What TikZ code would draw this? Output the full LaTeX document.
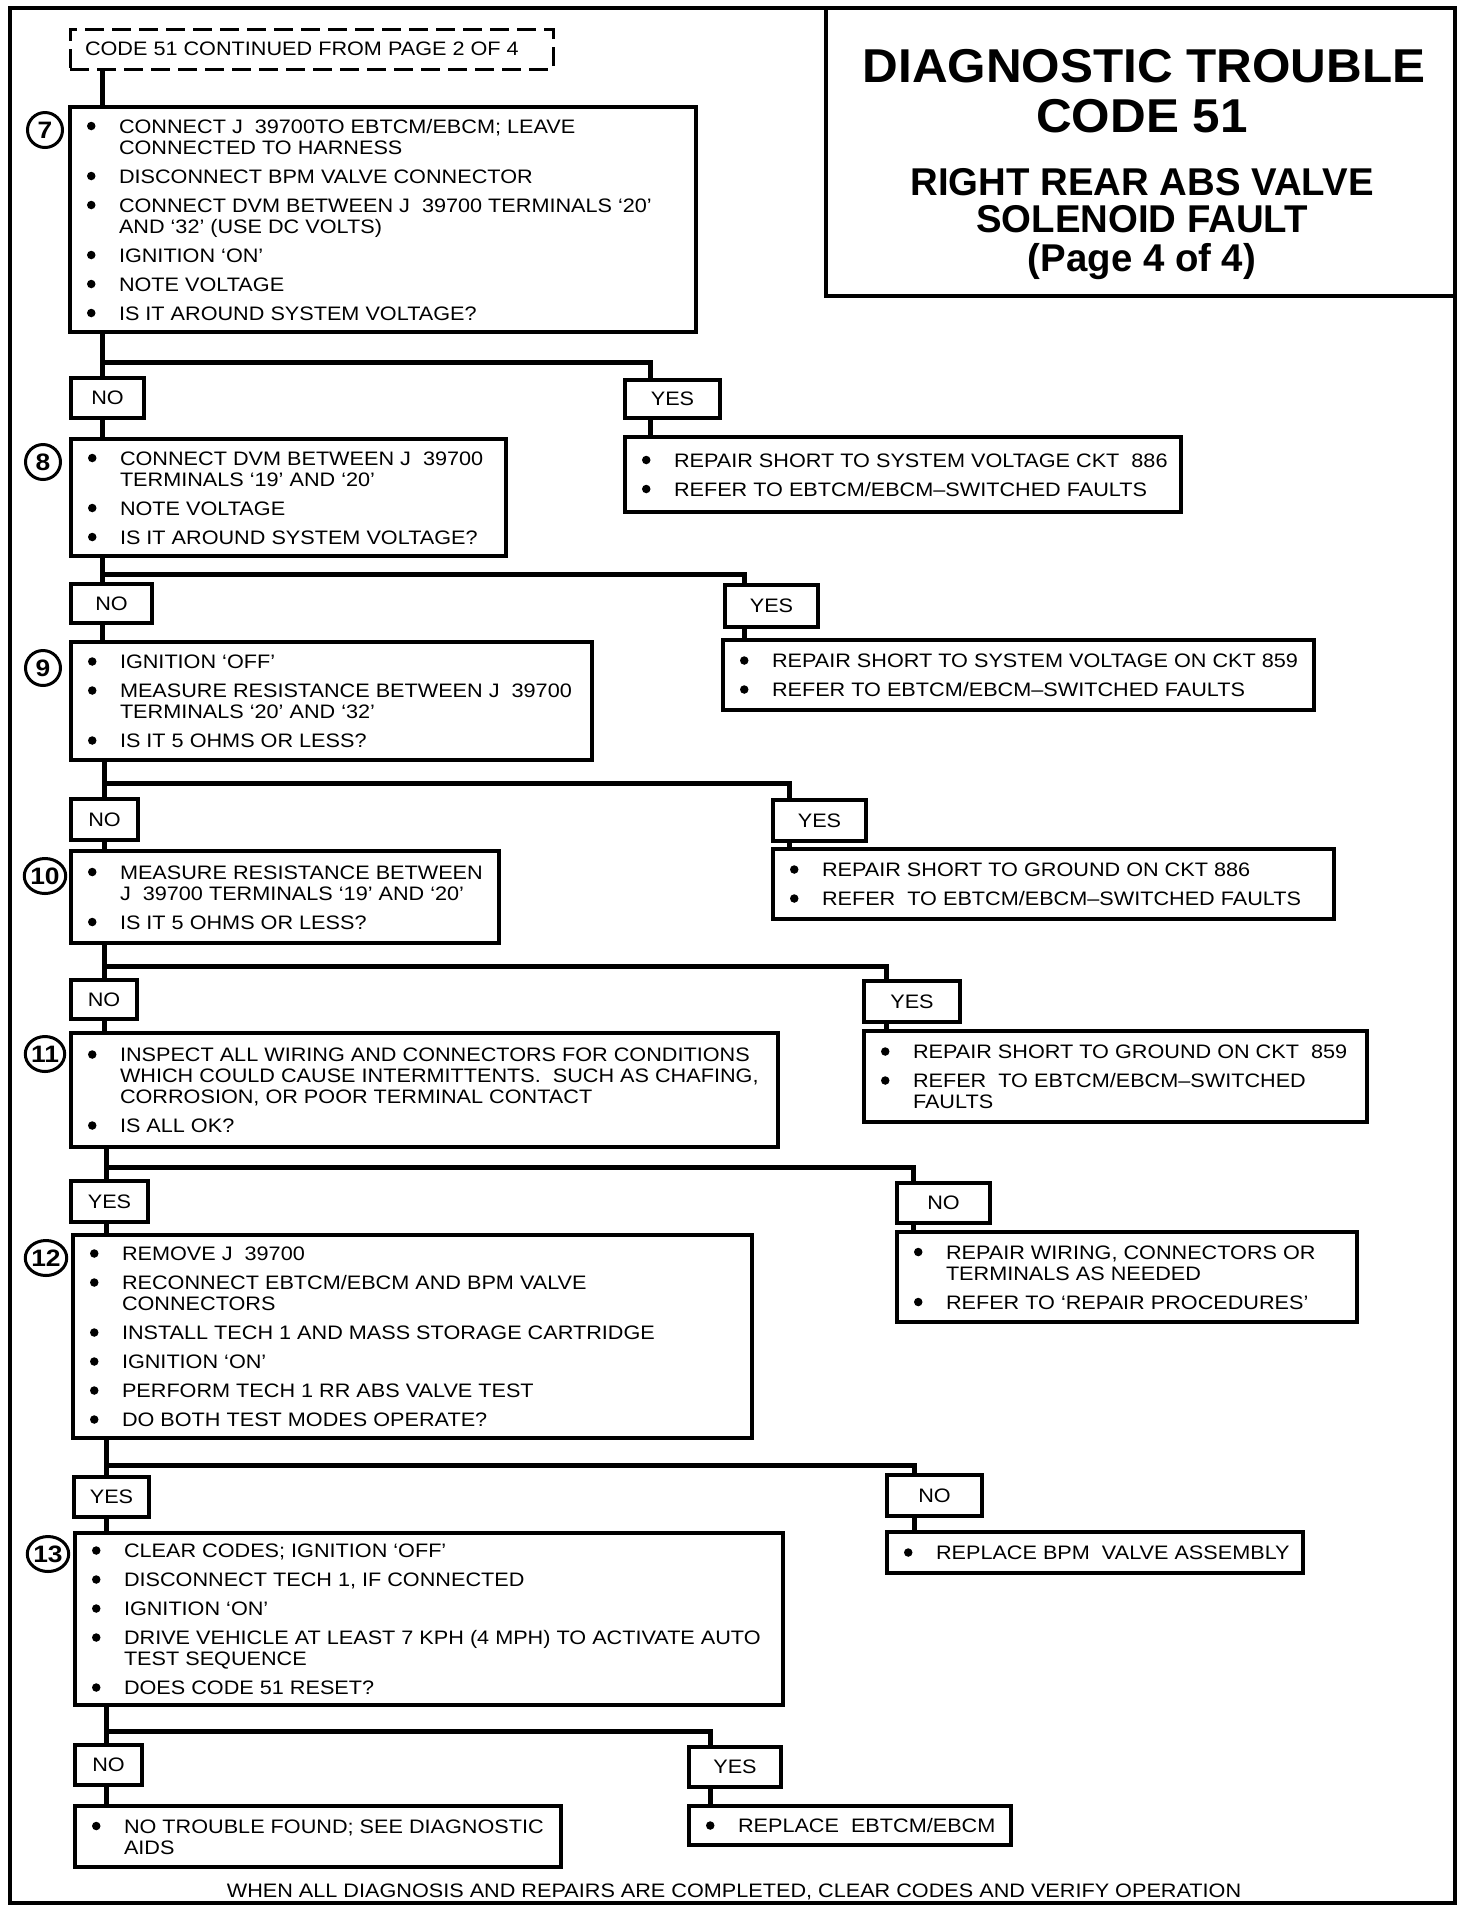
\documentclass[tikz,border=0pt]{standalone}
\usepackage{fontspec}
\setmainfont{Liberation Sans}[FakeStretch=1.11]
\newfontfamily\titlefam{Liberation Sans}[FakeStretch=1.04]
\newfontfamily\subfam{Liberation Sans}[FakeStretch=0.99]
\usetikzlibrary{shapes.geometric}
\newcommand\myBody{\fontsize{7.8pt}{8.4pt}\selectfont}
\newcommand\myTitle{\titlefam\fontsize{19pt}{21pt}\selectfont\bfseries}
\newcommand\mySub{\subfam\fontsize{15.5pt}{17pt}\selectfont\bfseries}
\newcommand\myNum{\fontsize{9.5pt}{10pt}\selectfont\bfseries}
\newlength\capH \setlength\capH{5.6pt}
\newlength\bulW \setlength\bulW{12.8pt}
\newlength\bgap \setlength\bgap{3.2pt}
\newcommand\bdot{\tikz[baseline=0pt,x=1pt,y=1pt]{\fill (1.7,2.8) circle[radius=1.7pt];}}
\newcommand\bl[1]{\vskip\bgap\hbox{\rlap{\smash{\bdot}}\hspace{\bulW}\smash{#1}\rule{0pt}{\capH}}}
\newcommand\cl[1]{\hbox{\hspace{\bulW}\smash{#1}\rule{0pt}{\capH}}}
\newcommand\mybox[7]{%
  \pgfmathsetmacro\mbw{(#5-#3)*0.4}%
  \pgfmathsetmacro\mbh{(#6-#4)*0.4}%
  \node[#1, minimum width=\mbw pt, minimum height=\mbh pt, anchor=north west] (#2) at (#3,#4) {#7};}
\newcommand\mytext[2]{\node[anchor=west] (#1t) at ([xshift=6.8pt]#1.west) {\vbox{\vskip-\bgap #2}};}
\begin{document}
\begin{tikzpicture}[x=0.4pt,y=-0.4pt,
  every node/.style={font=\myBody, inner sep=0pt, outer sep=0pt},
  stepbox/.style={draw, line width=1.4pt, rectangle},
  lab/.style={draw, line width=1.4pt, rectangle},
  startbox/.style={draw, line width=1.2pt, dash pattern=on 7.6pt off 3.2pt},
  framebox/.style={draw, line width=1.3pt},
  conn/.style={line width=2pt},
  num/.style={draw, circle, line width=1.2pt, minimum size=14pt, font=\myNum},
  num2/.style={draw, ellipse, line width=1.2pt, minimum width=15.6pt, minimum height=14pt, font=\myNum}]
\useasboundingbox (0,0) rectangle (1472,1916);

% frame and title
\mybox{framebox}{frame}{10}{8}{1455}{1903}{}
\mybox{framebox}{titlebox}{826}{8}{1455}{296}{}
\node[font=\myTitle, anchor=base] (tt1) at (1144,82) {DIAGNOSTIC TROUBLE};
\node[font=\myTitle, anchor=base] (tt2) at (1142,132) {CODE 51};
\node[font=\mySub, anchor=base] (tt3) at (1142,195) {RIGHT REAR ABS VALVE};
\node[font=\mySub, anchor=base] (tt4) at (1142,232) {SOLENOID FAULT};
\node[font=\mySub, anchor=base] (tt5) at (1142,271) {(Page 4 of 4)};

% spine coordinates
\coordinate (sA) at (102,0);
\coordinate (sB) at (104,0);
\coordinate (sC) at (106,0);

% start
\mybox{startbox}{start}{70}{29}{553}{69}{}
\node[anchor=west] (startt) at (85,49) {CODE 51 CONTINUED FROM PAGE 2 OF 4};

% step 7
\mybox{stepbox}{b7}{70}{107}{696}{332}{}
\mytext{b7}{\bl{CONNECT J~~39700TO EBTCM/EBCM; LEAVE}\cl{CONNECTED TO HARNESS}\bl{DISCONNECT BPM VALVE CONNECTOR}\bl{CONNECT DVM BETWEEN J~~39700 TERMINALS `20'}\cl{AND `32' (USE DC VOLTS)}\bl{IGNITION `ON'}\bl{NOTE VOLTAGE}\bl{IS IT AROUND SYSTEM VOLTAGE?}}
\node[num] (c7) at (45,130) {7};
\mybox{lab}{no1}{71}{378}{144}{418}{NO}
\mybox{lab}{yes1}{625}{380}{720}{418}{YES}
\mybox{stepbox}{r1}{625}{437}{1181}{512}{}
\mytext{r1}{\bl{REPAIR SHORT TO SYSTEM VOLTAGE CKT~~886}\bl{REFER TO EBTCM/EBCM--SWITCHED FAULTS}}

% step 8
\mybox{stepbox}{b8}{71}{439}{506}{556}{}
\mytext{b8}{\bl{CONNECT DVM BETWEEN J~~39700}\cl{TERMINALS `19' AND `20'}\bl{NOTE VOLTAGE}\bl{IS IT AROUND SYSTEM VOLTAGE?}}
\node[num] (c8) at (43,462) {8};
\mybox{lab}{no2}{71}{584}{152}{623}{NO}
\mybox{lab}{yes2}{725}{585}{818}{627}{YES}
\mybox{stepbox}{r2}{723}{640}{1314}{710}{}
\mytext{r2}{\bl{REPAIR SHORT TO SYSTEM VOLTAGE ON CKT 859}\bl{REFER TO EBTCM/EBCM--SWITCHED FAULTS}}

% step 9
\mybox{stepbox}{b9}{71}{642}{592}{760}{}
\mytext{b9}{\bl{IGNITION `OFF'}\bl{MEASURE RESISTANCE BETWEEN J~~39700}\cl{TERMINALS `20' AND `32'}\bl{IS IT 5 OHMS OR LESS?}}
\node[num] (c9) at (43,668) {9};
\mybox{lab}{no3}{71}{799}{138}{840}{NO}
\mybox{lab}{yes3}{773}{800}{866}{841}{YES}
\mybox{stepbox}{r3}{773}{849}{1334}{919}{}
\mytext{r3}{\bl{REPAIR SHORT TO GROUND ON CKT 886}\bl{REFER~~TO EBTCM/EBCM--SWITCHED FAULTS}}

% step 10
\mybox{stepbox}{b10}{71}{851}{499}{943}{}
\mytext{b10}{\bl{MEASURE RESISTANCE BETWEEN}\cl{J~~39700 TERMINALS `19' AND `20'}\bl{IS IT 5 OHMS OR LESS?}}
\node[num2] (c10) at (45,876) {10};
\mybox{lab}{no4}{71}{980}{137}{1019}{NO}
\mybox{lab}{yes4}{864}{981}{960}{1022}{YES}
\mybox{stepbox}{r4}{864}{1031}{1367}{1122}{}
\mytext{r4}{\bl{REPAIR SHORT TO GROUND ON CKT~~859}\bl{REFER~~TO EBTCM/EBCM--SWITCHED}\cl{FAULTS}}

% step 11
\mybox{stepbox}{b11}{71}{1033}{778}{1147}{}
\mytext{b11}{\bl{INSPECT ALL WIRING AND CONNECTORS FOR CONDITIONS}\cl{WHICH COULD CAUSE INTERMITTENTS.~~SUCH AS CHAFING,}\cl{CORROSION, OR POOR TERMINAL CONTACT}\bl{IS ALL OK?}}
\node[num2] (c11) at (45,1054) {11};
\mybox{lab}{yes5}{71}{1181}{148}{1222}{YES}
\mybox{lab}{no5}{897}{1183}{990}{1223}{NO}
\mybox{stepbox}{r5}{897}{1232}{1357}{1322}{}
\mytext{r5}{\bl{REPAIR WIRING, CONNECTORS OR}\cl{TERMINALS AS NEEDED}\bl{REFER TO `REPAIR PROCEDURES'}}

% step 12
\mybox{stepbox}{b12}{73}{1235}{752}{1438}{}
\mytext{b12}{\bl{REMOVE J~~39700}\bl{RECONNECT EBTCM/EBCM AND BPM VALVE}\cl{CONNECTORS}\bl{INSTALL TECH 1 AND MASS STORAGE CARTRIDGE}\bl{IGNITION `ON'}\bl{PERFORM TECH 1 RR ABS VALVE TEST}\bl{DO BOTH TEST MODES OPERATE?}}
\node[num2] (c12) at (46,1258) {12};
\mybox{lab}{yes6}{74}{1477}{149}{1517}{YES}
\mybox{lab}{no6}{887}{1475}{982}{1516}{NO}
\mybox{stepbox}{r6}{887}{1532}{1303}{1573}{}
\mytext{r6}{\bl{REPLACE BPM~~VALVE ASSEMBLY}}

% step 13
\mybox{stepbox}{b13}{75}{1533}{783}{1705}{}
\mytext{b13}{\bl{CLEAR CODES; IGNITION `OFF'}\bl{DISCONNECT TECH 1, IF CONNECTED}\bl{IGNITION `ON'}\bl{DRIVE VEHICLE AT LEAST 7 KPH (4 MPH) TO ACTIVATE AUTO}\cl{TEST SEQUENCE}\bl{DOES CODE 51 RESET?}}
\node[num2] (c13) at (48,1554) {13};
\mybox{lab}{no7}{75}{1745}{142}{1785}{NO}
\mybox{lab}{yes7}{689}{1747}{781}{1787}{YES}
\mybox{stepbox}{ntf}{75}{1806}{561}{1867}{}
\mytext{ntf}{\bl{NO TROUBLE FOUND; SEE DIAGNOSTIC}\cl{AIDS}}
\mybox{stepbox}{r7}{689}{1806}{1011}{1845}{}
\mytext{r7}{\bl{REPLACE~~EBTCM/EBCM}}

\node[anchor=base] (foot) at (734,1897) {WHEN ALL DIAGNOSIS AND REPAIRS ARE COMPLETED, CLEAR CODES AND VERIFY OPERATION};

% junction coordinates
\coordinate (j1) at (102,362);  \coordinate (k1) at (650,362);
\coordinate (j2) at (102,574);  \coordinate (k2) at (744,574);
\coordinate (j3) at (104,783);  \coordinate (k3) at (789,783);
\coordinate (j4) at (104,966);  \coordinate (k4) at (886,966);
\coordinate (j5) at (106,1167); \coordinate (k5) at (913,1167);
\coordinate (j6) at (106,1465); \coordinate (k6) at (914,1465);
\coordinate (j7) at (106,1731); \coordinate (k7) at (710,1731);

% spine connectors
\draw[conn] (start.south -| sA) -- (b7.north -| sA);
\draw[conn] (b7.south -| sA) -- (no1.north -| sA);
\draw[conn] (no1.south -| sA) -- (b8.north -| sA);
\draw[conn] (b8.south -| sA) -- (no2.north -| sA);
\draw[conn] (no2.south -| sA) -- (b9.north -| sA);
\draw[conn] (b9.south -| sB) -- (no3.north -| sB);
\draw[conn] (no3.south -| sB) -- (b10.north -| sB);
\draw[conn] (b10.south -| sB) -- (no4.north -| sB);
\draw[conn] (no4.south -| sB) -- (b11.north -| sB);
\draw[conn] (b11.south -| sC) -- (yes5.north -| sC);
\draw[conn] (yes5.south -| sC) -- (b12.north -| sC);
\draw[conn] (b12.south -| sC) -- (yes6.north -| sC);
\draw[conn] (yes6.south -| sC) -- (b13.north -| sC);
\draw[conn] (b13.south -| sC) -- (no7.north -| sC);
\draw[conn] (no7.south -| sC) -- (ntf.north -| sC);

% branch connectors
\draw[conn] (j1) -- (k1) -- (yes1.north -| k1);
\draw[conn] (yes1.south -| k1) -- (r1.north -| k1);
\draw[conn] (j2) -- (k2) -- (yes2.north -| k2);
\draw[conn] (yes2.south -| k2) -- (r2.north -| k2);
\draw[conn] (j3) -- (k3) -- (yes3.north -| k3);
\draw[conn] (yes3.south -| k3) -- (r3.north -| k3);
\draw[conn] (j4) -- (k4) -- (yes4.north -| k4);
\draw[conn] (yes4.south -| k4) -- (r4.north -| k4);
\draw[conn] (j5) -- (k5) -- (no5.north -| k5);
\draw[conn] (no5.south -| k5) -- (r5.north -| k5);
\draw[conn] (j6) -- (k6) -- (no6.north -| k6);
\draw[conn] (no6.south -| k6) -- (r6.north -| k6);
\draw[conn] (j7) -- (k7) -- (yes7.north -| k7);
\draw[conn] (yes7.south -| k7) -- (r7.north -| k7);
\end{tikzpicture}
\end{document}
